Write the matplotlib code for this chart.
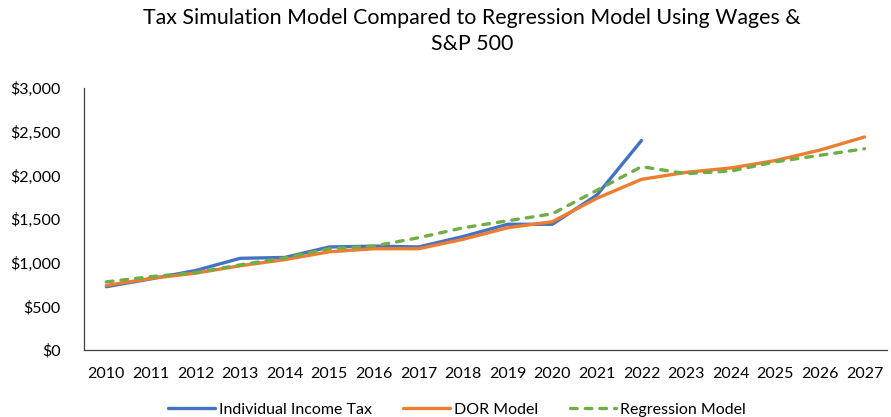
import matplotlib
matplotlib.use("Agg")
import matplotlib.pyplot as plt
import numpy as np

plt.rcParams['font.family'] = ['Lato', 'DejaVu Sans']

years = [str(y) for y in range(2010, 2028)]
income_tax = [725, 815, 910, 1050, 1060, 1180, 1190, 1180, 1300, 1440, 1440, 1775, 2400]
dor_model = [740, 820, 880, 965, 1035, 1125, 1160, 1160, 1268, 1400, 1470, 1738, 1955,
             2035, 2085, 2170, 2290, 2440]
regression = [780, 840, 886, 975, 1055, 1160, 1190, 1286, 1400, 1480, 1560, 1830, 2100,
              2020, 2050, 2155, 2230, 2305]
yticks = [0, 500, 1000, 1500, 2000, 2500, 3000]

fig = plt.figure(figsize=(8.91, 4.17), dpi=100)
ax = fig.add_axes([0.0943, 0.1607, 0.901, 0.628])

x = np.arange(len(years))
ax.plot(x[:len(income_tax)], income_tax, color='#4472C4', lw=2.4, label='Individual Income Tax',
        solid_capstyle='round')
ax.plot(x, dor_model, color='#ED7D31', lw=2.4, label='DOR Model', solid_capstyle='round')
ax.plot(x, regression, color='#70AD47', lw=2.4, ls=(0, (2.0, 2.4)), label='Regression Model',
        dash_capstyle='round')

ax.set_xlim(-0.5, len(years) - 0.5)
ax.set_ylim(0, 3000)
ax.set_xticks(x)
ax.set_xticklabels(years, fontsize=11.5, color='black')
ax.set_yticks(yticks)
ax.set_yticklabels([f"${v:,}" for v in yticks], fontsize=11.5, color='black')
ax.tick_params(axis='y', length=0, pad=17)
ax.tick_params(axis='x', length=0, pad=12)
for s in ['top', 'right']:
    ax.spines[s].set_visible(False)
ax.spines['left'].set_color('#404040')
ax.spines['bottom'].set_color('#404040')
ax.spines['left'].set_linewidth(0.9)
ax.spines['bottom'].set_linewidth(0.9)

fig.text(0.53, 0.982, "Tax Simulation Model Compared to Regression Model Using Wages &\nS&P 500",
         ha='center', va='top', fontsize=15.4, linespacing=1.4, color='black')

fig.legend(loc='center', bbox_to_anchor=(0.513, 0.018), ncol=3, frameon=False, fontsize=11.5,
           handlelength=2.9, columnspacing=2.0, handletextpad=0.25)

fig.savefig('out.png', dpi=100)
